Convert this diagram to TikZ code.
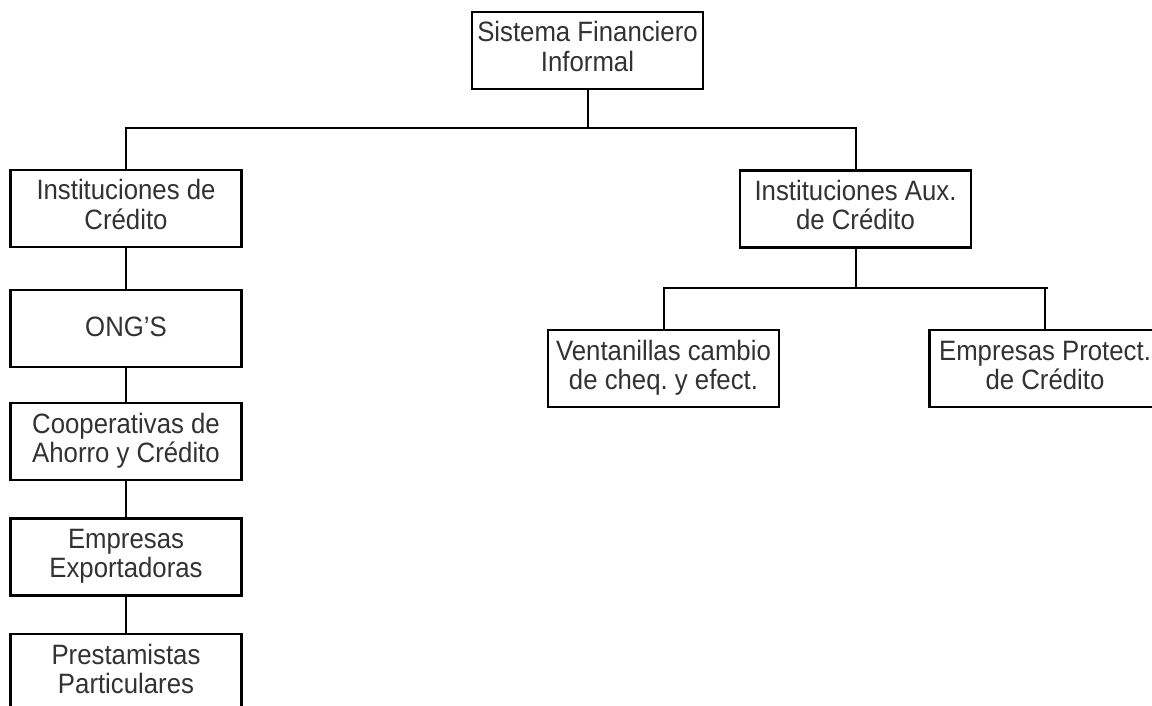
\documentclass[tikz,border=0pt]{standalone}
\usepackage{fontspec}
\setmainfont{Liberation Sans}[FakeStretch=0.92]
\frenchspacing
\definecolor{txt}{RGB}{50,50,50}
\newcommand\twoline[2]{\raisebox{0pt}[0pt][17pt]{\begin{tabular}[t]{@{}c@{}}#1\\#2\end{tabular}}}
\newcommand\oneline[1]{\raisebox{0pt}[15pt][0pt]{#1}}
\begin{document}
\begin{tikzpicture}[x=1pt,y=-1pt,
  box/.style={draw=black,line width=2.2pt,rectangle,minimum width=231pt,minimum height=77pt,
    inner sep=0pt,text=txt,font=\fontsize{28}{29.3}\selectfont\frenchspacing},
  conn/.style={draw=black,line width=2pt}]
\useasboundingbox (0,0) rectangle (1152,706);
\node[box] (top) at (587.5,50.5) {\twoline{Sistema Financiero}{Informal}};
\node[box] (inst) at (126,208.5) {\twoline{Instituciones de}{Crédito}};
\node[box] (ong) at (126,328.5) {\oneline{ONG’S}};
\node[box] (coop) at (126,441.5) {\twoline{Cooperativas de}{Ahorro y Crédito}};
\node[box] (emp) at (126,557) {\twoline{Empresas}{Exportadoras}};
\node[box] (prest) at (126,672.5) {\twoline{Prestamistas}{Particulares}};
\node[box] (aux) at (855.5,209) {\twoline{Instituciones Aux.}{de Crédito}};
\node[box] (vent) at (663.5,368.5) {\twoline{Ventanillas cambio}{de cheq. y efect.}};
\node[box] (prot) at (1045,368.5) {\twoline{Empresas Protect.}{de Crédito}};
\coordinate (bar1) at (0,128);
\coordinate (bar2) at (0,288);
\draw[conn] (top.south) -- (top.south |- bar1);
\draw[conn] (inst.north) -- (inst.north |- bar1) -- (aux.north |- bar1) -- (aux.north);
\draw[conn] (inst) -- (ong);
\draw[conn] (ong) -- (coop);
\draw[conn] (coop) -- (emp);
\draw[conn] (emp) -- (prest);
\draw[conn] (aux.south) -- (aux.south |- bar2);
\draw[conn] (vent.north) -- (vent.north |- bar2) -- ([xshift=3pt]prot.north |- bar2);
\draw[conn] (prot.north) -- (prot.north |- bar2);
\end{tikzpicture}
\end{document}
